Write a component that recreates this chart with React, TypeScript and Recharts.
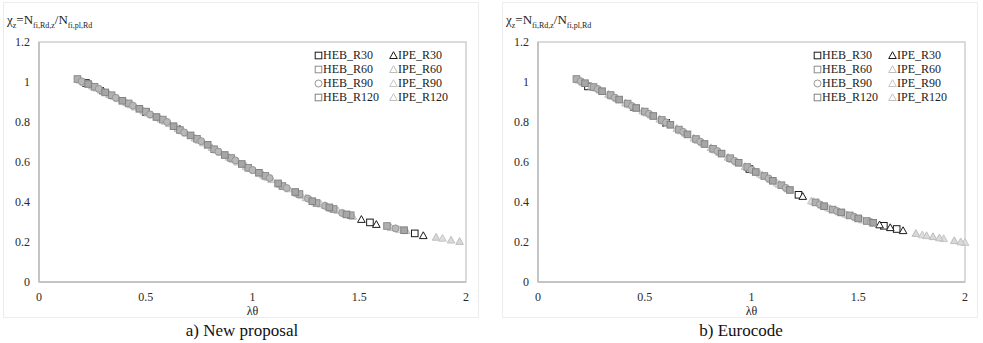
import React from "react";
import { ScatterChart, Scatter, XAxis, YAxis, ReferenceArea, Legend } from "recharts";

type Pt = [number, number];

// a) New proposal (λθ, χz)
const newHebR30: Pt[] = [[0.22, 0.995], [0.5, 0.85], [1.55, 0.298], [1.76, 0.243]];
const newHebR60: Pt[] = [[0.18, 1.015], [0.26, 0.976], [0.34, 0.934], [0.42, 0.893], [0.5, 0.852], [0.58, 0.812], [0.66, 0.76], [0.74, 0.716], [0.82, 0.664], [0.9, 0.62], [0.98, 0.571], [1.06, 0.531], [1.14, 0.48], [1.22, 0.44], [1.3, 0.395], [1.38, 0.365], [1.46, 0.334], [1.63, 0.28]];
const newHebR90: Pt[] = [[0.2, 1.003], [0.28, 0.966], [0.36, 0.921], [0.44, 0.882], [0.52, 0.838], [0.6, 0.8], [0.68, 0.748], [0.76, 0.704], [0.84, 0.652], [0.92, 0.608], [1.0, 0.56], [1.08, 0.52], [1.16, 0.47], [1.26, 0.417], [1.34, 0.381], [1.42, 0.345], [1.67, 0.268]];
const newHebR120: Pt[] = [[0.23, 0.99], [0.31, 0.948], [0.39, 0.906], [0.47, 0.866], [0.55, 0.825], [0.63, 0.779], [0.71, 0.733], [0.79, 0.686], [0.87, 0.635], [0.95, 0.59], [1.03, 0.546], [1.12, 0.493], [1.2, 0.45], [1.28, 0.404], [1.36, 0.373], [1.44, 0.338], [1.71, 0.259]];
const newIpeR30: Pt[] = [[0.3, 0.956], [0.66, 0.764], [1.51, 0.313], [1.58, 0.288], [1.8, 0.232]];
const newIpeR60: Pt[] = [[0.25, 0.98], [0.33, 0.938], [0.41, 0.897], [0.49, 0.855], [0.57, 0.815], [0.65, 0.768], [0.73, 0.72], [0.81, 0.672], [0.89, 0.624], [0.97, 0.578], [1.05, 0.535], [1.13, 0.488], [1.21, 0.443], [1.29, 0.401], [1.37, 0.367], [1.65, 0.272], [1.86, 0.224], [1.97, 0.203]];
const newIpeR90: Pt[] = [[0.19, 1.01], [0.27, 0.97], [0.35, 0.928], [0.43, 0.886], [0.51, 0.845], [0.59, 0.804], [0.67, 0.756], [0.75, 0.708], [0.83, 0.66], [0.91, 0.612], [0.99, 0.567], [1.07, 0.524], [1.15, 0.477], [1.23, 0.432], [1.32, 0.39], [1.4, 0.357], [1.69, 0.262], [1.89, 0.219]];
const newIpeR120: Pt[] = [[0.21, 0.998], [0.29, 0.96], [0.37, 0.917], [0.45, 0.875], [0.53, 0.835], [0.61, 0.792], [0.69, 0.744], [0.77, 0.696], [0.85, 0.648], [0.93, 0.6], [1.01, 0.557], [1.09, 0.512], [1.17, 0.466], [1.25, 0.421], [1.34, 0.383], [1.47, 0.328], [1.72, 0.257], [1.93, 0.21]];

// b) Eurocode
const ecHebR30: Pt[] = [[0.234, 0.978], [0.6, 0.796], [0.99, 0.565], [1.22, 0.436], [1.62, 0.281], [1.68, 0.265]];
const ecHebR60: Pt[] = [[0.18, 1.015], [0.26, 0.975], [0.34, 0.935], [0.42, 0.892], [0.5, 0.852], [0.58, 0.81], [0.66, 0.762], [0.74, 0.715], [0.82, 0.666], [0.9, 0.619], [0.98, 0.575], [1.06, 0.53], [1.14, 0.484], [1.3, 0.398], [1.38, 0.362], [1.46, 0.333], [1.54, 0.305]];
const ecHebR90: Pt[] = [[0.2, 1.004], [0.28, 0.965], [0.36, 0.922], [0.44, 0.88], [0.52, 0.841], [0.6, 0.798], [0.68, 0.751], [0.76, 0.702], [0.84, 0.655], [0.92, 0.606], [1.0, 0.562], [1.08, 0.518], [1.16, 0.471], [1.32, 0.388], [1.4, 0.355], [1.48, 0.326], [1.56, 0.299]];
const ecHebR120: Pt[] = [[0.22, 0.994], [0.3, 0.954], [0.38, 0.912], [0.46, 0.87], [0.54, 0.83], [0.62, 0.786], [0.7, 0.738], [0.78, 0.69], [0.86, 0.642], [0.94, 0.596], [1.02, 0.55], [1.1, 0.506], [1.18, 0.46], [1.34, 0.379], [1.42, 0.348], [1.5, 0.318], [1.57, 0.296]];
const ecIpeR30: Pt[] = [[0.45, 0.873], [1.24, 0.428], [1.6, 0.286], [1.65, 0.272], [1.71, 0.257]];
const ecIpeR60: Pt[] = [[0.25, 0.98], [0.33, 0.939], [0.41, 0.896], [0.49, 0.856], [0.57, 0.815], [0.65, 0.768], [0.73, 0.72], [0.81, 0.672], [0.89, 0.624], [0.97, 0.578], [1.05, 0.535], [1.13, 0.489], [1.29, 0.402], [1.37, 0.367], [1.45, 0.336], [1.77, 0.243], [1.85, 0.227], [1.95, 0.207]];
const ecIpeR90: Pt[] = [[0.19, 1.01], [0.27, 0.97], [0.35, 0.928], [0.43, 0.886], [0.51, 0.845], [0.59, 0.804], [0.67, 0.756], [0.75, 0.708], [0.83, 0.66], [0.91, 0.612], [1.04, 0.54], [1.12, 0.495], [1.28, 0.406], [1.36, 0.371], [1.44, 0.34], [1.52, 0.31], [1.8, 0.236], [1.9, 0.217], [2.0, 0.198]];
const ecIpeR120: Pt[] = [[0.21, 0.998], [0.29, 0.96], [0.37, 0.917], [0.45, 0.875], [0.53, 0.835], [0.61, 0.792], [0.69, 0.744], [0.77, 0.696], [0.85, 0.648], [0.93, 0.6], [1.01, 0.557], [1.09, 0.512], [1.17, 0.466], [1.33, 0.384], [1.41, 0.351], [1.49, 0.322], [1.82, 0.232], [1.88, 0.221], [1.98, 0.201]];

const xTicks = [0, 0.5, 1, 1.5, 2];
const yTicks = [0, 0.2, 0.4, 0.6, 0.8, 1, 1.2];
const seriesNames = ["HEB_R30", "HEB_R60", "HEB_R90", "HEB_R120", "IPE_R30", "IPE_R60", "IPE_R90", "IPE_R120"];
// black R30 first, light IPE next, darker HEB on top
const drawOrder = ["HEB_R30", "IPE_R30", "IPE_R60", "IPE_R90", "IPE_R120", "HEB_R60", "HEB_R90", "HEB_R120"];

type Look = { shape: "square" | "circle" | "triangle"; stroke: string; fill: string };
const looks: Record<string, Look> = {
  HEB_R30: { shape: "square", stroke: "#1a1a1a", fill: "#ffffff" },
  HEB_R60: { shape: "square", stroke: "#8c8c8c", fill: "#b0b0b0" },
  HEB_R90: { shape: "circle", stroke: "#969696", fill: "#b8b8b8" },
  HEB_R120: { shape: "square", stroke: "#828282", fill: "#a6a6a6" },
  IPE_R30: { shape: "triangle", stroke: "#1a1a1a", fill: "#ffffff" },
  IPE_R60: { shape: "triangle", stroke: "#bdbdbd", fill: "#d8d8d8" },
  IPE_R90: { shape: "triangle", stroke: "#c6c6c6", fill: "#dedede" },
  IPE_R120: { shape: "triangle", stroke: "#c0c0c0", fill: "#dadada" },
};

const newSeries: Record<string, Pt[]> = {
  HEB_R30: newHebR30, HEB_R60: newHebR60, HEB_R90: newHebR90, HEB_R120: newHebR120,
  IPE_R30: newIpeR30, IPE_R60: newIpeR60, IPE_R90: newIpeR90, IPE_R120: newIpeR120,
};
const ecSeries: Record<string, Pt[]> = {
  HEB_R30: ecHebR30, HEB_R60: ecHebR60, HEB_R90: ecHebR90, HEB_R120: ecHebR120,
  IPE_R30: ecIpeR30, IPE_R60: ecIpeR60, IPE_R90: ecIpeR90, IPE_R120: ecIpeR120,
};

const FONT = "'Liberation Serif', 'Times New Roman', serif";

// marker glyph centred on (cx, cy), used by both the plot and the legend
function glyph(look: Look, cx: number, cy: number, fill: string) {
  if (look.shape === "square") return <rect x={cx - 3.3} y={cy - 3.3} width={6.6} height={6.6} stroke={look.stroke} fill={fill} />;
  if (look.shape === "circle") return <circle cx={cx} cy={cy} r={3.5} stroke={look.stroke} fill={fill} />;
  return <polygon points={`${cx},${cy - 3.8} ${cx + 3.8},${cy + 3} ${cx - 3.8},${cy + 3}`} stroke={look.stroke} fill={fill} />;
}

function LegendBox() {
  return (
    <div
      style={{
        display: "grid",
        gridTemplateColumns: "75px 75px",
        gridTemplateRows: "repeat(4, 14px)",
        gridAutoFlow: "column",
        fontFamily: FONT,
        fontSize: 12,
        color: "#222",
      }}
    >
      {seriesNames.map((n) => (
        <div key={n} style={{ display: "flex", alignItems: "center", height: 14, whiteSpace: "nowrap" }}>
          <svg width={9} height={9} style={{ display: "block" }}>
            {glyph(looks[n], 4.5, 4.5, "#fff")}
          </svg>
          <span>{n}</span>
        </div>
      ))}
    </div>
  );
}

function Panel({ left, title, series }: { left: number; title: string; series: Record<string, Pt[]> }) {
  const tick = { fontFamily: FONT, fontSize: 12, fill: "#2a2a2a" };
  return (
    <div style={{ position: "absolute", left, top: 0, width: 490, height: 343 }}>
      <div style={{ position: "absolute", left: 3, top: 2, width: 474, height: 314, border: "1px solid #ececec" }} />
      <div style={{ position: "absolute", left: 7, top: 12, fontFamily: FONT, fontSize: 13, lineHeight: "16px", color: "#222", whiteSpace: "nowrap" }}>
        χ<sub style={{ fontSize: 8 }}>z</sub>=N<sub style={{ fontSize: 8 }}>fi,Rd,z</sub>/N<sub style={{ fontSize: 8 }}>fi,pl,Rd</sub>
      </div>
      <div style={{ position: "absolute", left: 0, top: 0 }}>
        <ScatterChart width={490} height={320} margin={{ top: 42, right: 24, bottom: 14, left: 9 }}>
          <XAxis
            type="number"
            dataKey="x"
            domain={[0, 2]}
            ticks={xTicks}
            tickLine={false}
            tickSize={0}
            tickMargin={10}
            tick={tick}
            axisLine={{ stroke: "#bdbdbd", strokeWidth: 1.5 }}
            height={24}
            label={{ value: "λθ", position: "bottom", offset: 0, style: { fontFamily: FONT, fontSize: 12, fill: "#222" } }}
          />
          <YAxis
            type="number"
            dataKey="y"
            domain={[0, 1.2]}
            ticks={yTicks}
            tickLine={false}
            tickSize={0}
            tickMargin={9}
            tick={tick}
            axisLine={{ stroke: "#bdbdbd", strokeWidth: 1.5 }}
            width={30}
          />
          <ReferenceArea x1={0} x2={2} y1={0} y2={1.2} fill="none" stroke="#cfcfcf" strokeWidth={1.5} />
          {drawOrder.map((n) => (
            <Scatter
              key={n}
              name={n}
              data={series[n].map(([x, y]) => ({ x, y }))}
              shape={(p: any) => glyph(looks[n], p.cx, p.cy, looks[n].fill)}
              isAnimationActive={false}
            />
          ))}
          <Legend
            layout="horizontal"
            verticalAlign="middle"
            align="center"
            content={() => <LegendBox />}
            wrapperStyle={{ position: "absolute", top: 48, left: 314, width: 160, height: 56 }}
          />
        </ScatterChart>
      </div>
      <div style={{ position: "absolute", left: 142, width: 200, top: 321, textAlign: "center", fontFamily: FONT, fontSize: 17, lineHeight: "19px", color: "#111" }}>
        {title}
      </div>
    </div>
  );
}

export default function App() {
  return (
    <div style={{ position: "absolute", left: 0, top: 0, width: 983, height: 343, background: "#fff" }}>
      <Panel left={0} title="a) New proposal" series={newSeries} />
      <Panel left={499} title="b) Eurocode" series={ecSeries} />
    </div>
  );
}
